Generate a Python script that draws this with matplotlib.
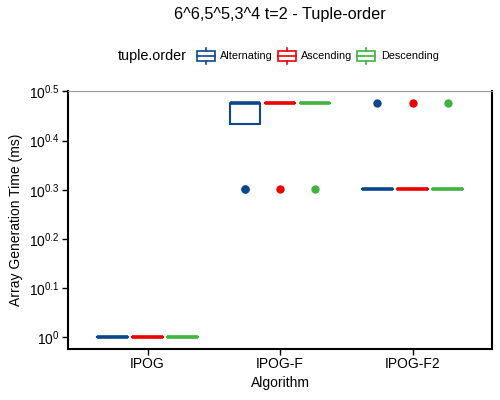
import matplotlib
matplotlib.use("Agg")
import matplotlib.pyplot as plt
import numpy as np
from matplotlib.legend_handler import HandlerBase
from matplotlib.lines import Line2D
from matplotlib.patches import Rectangle

plt.rcParams["font.family"] = ["Liberation Sans", "DejaVu Sans"]
plt.rcParams["mathtext.fontset"] = "custom"
plt.rcParams["mathtext.rm"] = "Liberation Sans"
plt.rcParams["mathtext.it"] = "Liberation Sans:italic"
plt.rcParams["mathtext.default"] = "regular"

algorithms = ["IPOG", "IPOG-F", "IPOG-F2"]
tuple_orders = ["Alternating", "Ascending", "Descending"]
colors = ["#0B478C", "#EE0000", "#40B340"]

# generation time (ms) per run, one list per tuple order
ipog_times = [
    [1, 1, 1, 1, 1, 1, 1, 1],
    [1, 1, 1, 1, 1, 1, 1, 1],
    [1, 1, 1, 1, 1, 1, 1, 1],
]
ipog_f_times = [
    [2, 2, 3, 3, 3, 3, 3, 3],
    [2, 3, 3, 3, 3, 3, 3, 3],
    [2, 3, 3, 3, 3, 3, 3, 3],
]
ipog_f2_times = [
    [2, 2, 2, 2, 2, 2, 2, 3],
    [2, 2, 2, 2, 2, 2, 2, 3],
    [2, 2, 2, 2, 2, 2, 2, 3],
]
all_times = [ipog_times, ipog_f_times, ipog_f2_times]

ytick_exp = [0, 0.1, 0.2, 0.3, 0.4, 0.5]


class BoxKey(HandlerBase):
    # petite icone de boxplot comme dans ggplot
    def create_artists(self, legend, orig_handle, xdescent, ydescent,
                       width, height, fontsize, trans):
        c = orig_handle.get_color()
        x0, y0 = -xdescent, -ydescent
        xm = x0 + width / 2
        lw = 1.2
        box = Rectangle((x0, y0 + 0.17 * height), width, 0.66 * height,
                        fill=False, ec=c, lw=lw, transform=trans)
        med = Line2D([x0, x0 + width], [y0 + 0.5 * height] * 2, color=c, lw=lw, transform=trans)
        w1 = Line2D([xm, xm], [y0, y0 + 0.17 * height], color=c, lw=lw, transform=trans)
        w2 = Line2D([xm, xm], [y0 + 0.83 * height, y0 + height], color=c, lw=lw, transform=trans)
        return [box, med, w1, w2]


fig = plt.figure(figsize=(5, 4), dpi=100)
ax = fig.add_axes([0.136, 0.1275, 0.848, 0.645])

offsets = [-0.265, 0.0, 0.265]
for i, times in enumerate(all_times):
    for j, vals in enumerate(times):
        c = colors[j]
        ax.boxplot(
            [np.log10(vals)],
            positions=[i + offsets[j]],
            widths=0.23,
            whis=1.5,
            showcaps=False,
            boxprops=dict(color=c, linewidth=1.5),
            whiskerprops=dict(color=c, linewidth=1.5),
            medianprops=dict(color=c, linewidth=2.6, solid_capstyle="butt"),
            flierprops=dict(marker="o", markerfacecolor=c, markeredgecolor=c, markersize=5),
            manage_ticks=False,
        )

ax.set_xlim(-0.6, 2.6)
ax.set_ylim(-0.024, 0.501)
ax.set_xticks(range(len(algorithms)))
ax.set_xticklabels(algorithms, fontsize=10)
ax.set_yticks(ytick_exp)
ax.set_yticklabels([r"$10^{%g}$" % e for e in ytick_exp], fontsize=10)
ax.tick_params(length=4, width=1, color="black", pad=2)

for s in ["left", "bottom", "right"]:
    ax.spines[s].set_linewidth(1.5)
    ax.spines[s].set_color("black")
ax.spines["top"].set_linewidth(0.8)
ax.spines["top"].set_color("#999999")

ax.set_xlabel("Algorithm", fontsize=10, labelpad=3)
ax.set_ylabel("Array Generation Time (ms)", fontsize=10, labelpad=4)
fig.text(0.56, 0.9625, "6^6,5^5,3^4 t=2 - Tuple-order", fontsize=11.7,
         ha="center", va="center")

handles = [Line2D([], [], color=c) for c in colors]
fig.text(0.236, 0.86, "tuple.order", fontsize=10.4, va="center", ha="left")
fig.legend(
    handles, tuple_orders,
    handler_map={Line2D: BoxKey()},
    loc="center left", bbox_to_anchor=(0.394, 0.86),
    ncol=3, frameon=False, fontsize=7.8,
    handlelength=1.65, handleheight=1.8, handletextpad=0.5,
    columnspacing=0.45, borderpad=0, borderaxespad=0,
)

plt.savefig("out.png", dpi=100)
